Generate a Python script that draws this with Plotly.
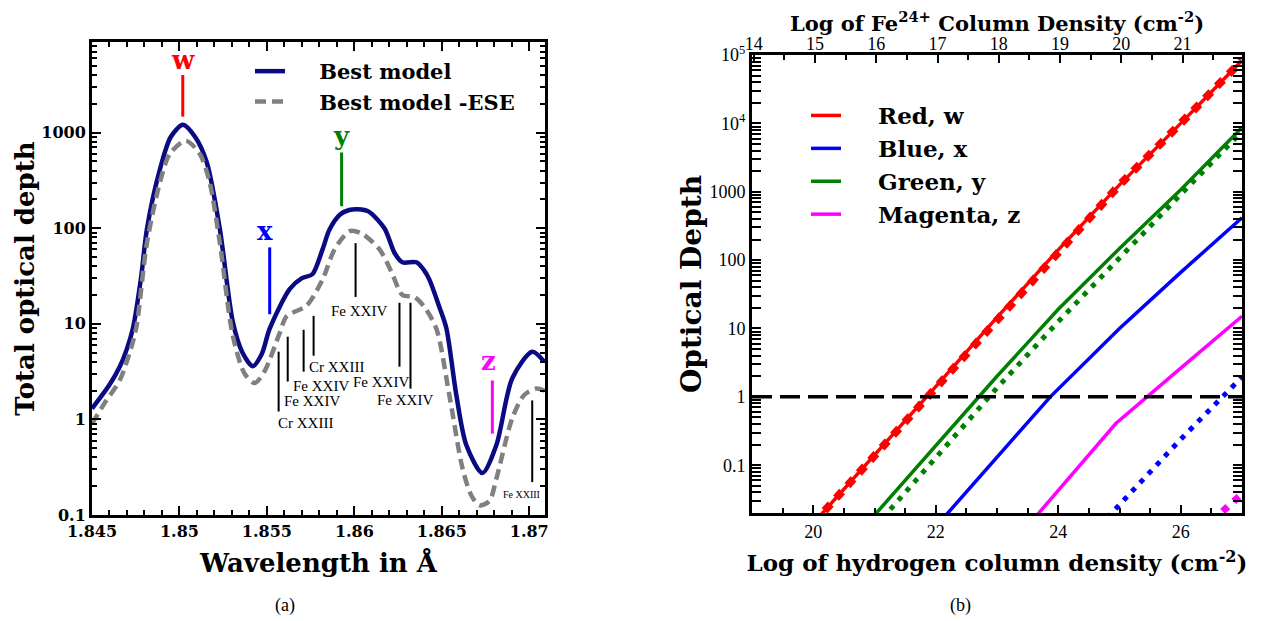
import math
import plotly.graph_objects as go

# page body has an 8px margin; lay out in reference pixel space, shifted by it
OFF = 8
W, H = 1264 - OFF, 621 - OFF

# ---------------- Panel (a): total optical depth vs wavelength ----------------
wl_best = [1.8450, 1.8460, 1.8466, 1.8470, 1.84734, 1.8478, 1.84814, 1.84888, 1.8495,
           1.8502, 1.8509, 1.85156, 1.85231, 1.85305, 1.8536, 1.85419, 1.8547, 1.85516,
           1.8563, 1.8570, 1.8576, 1.85818, 1.85858, 1.8592, 1.8597, 1.8602, 1.8608,
           1.86172, 1.8623, 1.86275, 1.86355, 1.8640, 1.86429, 1.86486, 1.86526, 1.86583,
           1.8664, 1.86732, 1.86812, 1.86903, 1.87017, 1.87086]
tau_best = [1.3, 2.3, 3.6, 5.5, 9.0, 30, 98, 410, 900,
            1210, 900, 490, 98, 10.5, 5.0, 3.6, 4.8, 8.9,
            23, 30, 33, 60, 97, 140, 155, 158, 150,
            100, 55, 44, 44, 36, 29, 15, 9.0, 1.8,
            0.54, 0.275, 0.54, 2.7, 5.1, 4.0]

wl_ese = [1.8450, 1.84574, 1.8466, 1.84734, 1.84757, 1.84814, 1.84888, 1.84945, 1.85037,
          1.85116, 1.85173, 1.85231, 1.85305, 1.85373, 1.8543, 1.85487, 1.85573, 1.85613,
          1.85727, 1.85818, 1.85887, 1.85973, 1.86041, 1.86144, 1.86212, 1.86275, 1.86344,
          1.8640, 1.86469, 1.86543, 1.86618, 1.86669, 1.86715, 1.86772, 1.86812, 1.86903,
          1.86971, 1.8704, 1.87086]
tau_ese = [0.9, 1.5, 2.6, 6.5, 10, 70, 300, 600, 820,
           600, 300, 70, 7.5, 3.0, 2.4, 3.2, 8.0, 12,
           15.5, 29, 60, 93, 88, 60, 35, 20, 19,
           15, 8.9, 1.8, 0.31, 0.16, 0.126, 0.14, 0.24, 1.03,
           1.8, 2.1, 2.0]

# line identifications (w, x, y, z)
line_ids = ["w", "x", "y", "z"]
line_wl = [1.85019, 1.85516, 1.85927, 1.86789]
line_lo = [1470, 12.6, 170, 0.71]
line_hi = [4000, 63, 620, 2.55]
line_label_wl = [1.85019, 1.85487, 1.85927, 1.86766]
line_label_tau = [5750, 93, 930, 4.1]
line_colors = ["#ff0000", "#0000ff", "#008000", "#ff00ff"]

# satellite / blended ion lines
ion_names = ["Cr XXIII", "Fe XXIV", "Fe XXIV", "Cr XXIII", "Fe XXIV", "Fe XXIV", "Fe XXIV", "Fe XXIII"]
ion_wl = [1.85567, 1.85619, 1.8571, 1.85767, 1.86007, 1.86258, 1.86321, 1.87017]
ion_lo = [1.21, 2.49, 3.16, 4.64, 19.1, 3.56, 2.10, 0.221]
ion_hi = [5.11, 7.33, 8.66, 12.1, 69.8, 16.6, 16.6, 1.58]
ion_label_wl = [1.85722, 1.85756, 1.85807, 1.85898, 1.86024, 1.86155, 1.86287, 1.86954]
ion_label_tau = [0.908, 1.54, 2.26, 3.56, 13.6, 2.49, 1.58, 0.162]
ion_label_size = [15, 15, 15, 15, 15, 15, 15, 10]

# ---------------- Panel (b): optical depth vs hydrogen column ----------------
nh_red = [20, 21, 22, 23, 24, 25, 26, 27]
tau_red = [0.0141, 0.138, 1.41, 14.5, 141, 1260, 10000, 83200]
tau_red_ese = [0.0141, 0.138, 1.41, 14.5, 141, 1260, 10000, 83200]

nh_green = [21.0, 22, 22.71, 23, 24, 25, 26, 27]
tau_green = [0.0186, 0.19, 1.0, 2.0, 19.1, 148, 1070, 8710]
nh_green_ese = [21, 22, 23, 24, 25, 26, 27]
tau_green_ese = [0.0123, 0.129, 1.35, 12.6, 110, 912, 7590]

nh_blue = [22, 23, 23.87, 25, 26, 27]
tau_blue = [0.0126, 0.132, 1.0, 10.0, 66.1, 417]
nh_blue_ese = [24.8, 25, 26, 27]
tau_blue_ese = [0.017, 0.0263, 0.24, 1.95]

nh_mag = [23.5, 24, 24.94, 26, 27]
tau_mag = [0.0129, 0.0427, 0.407, 2.63, 15.1]
nh_mag_ese = [26.5, 27]
tau_mag_ese = [0.0151, 0.038]

nh_unity = [19, 27]
tau_unity = [1, 1]

left_xticks = [1.845, 1.85, 1.855, 1.86, 1.865, 1.87]
left_xtext = ["1.845", "1.85", "1.855", "1.86", "1.865", "1.87"]
left_yticks = [0.1, 1, 10, 100, 1000]
left_ytext = ["0.1", "1", "10", "100", "1000"]
right_yticks = [0.1, 1, 10, 100, 1000, 1e4, 1e5]
right_ytext = ["0.1", "1", "10", "100", "1000", "10<sup>4</sup>", "10<sup>5</sup>"]
right_xticks = [20, 22, 24, 26]
fe_ticks = [14, 15, 16, 17, 18, 19, 20, 21]


def px(x):
    return (x - OFF) / W


def py(y):
    return 1 - (y - OFF) / H


SERIF_B = "DejaVu Serif"
TIMES = "Liberation Serif"
PAD = "\u00a0\u00a0\u00a0\u00a0"

fig = go.Figure()

# ---- panel (a) traces
fig.add_trace(go.Scatter(x=wl_best, y=tau_best, mode="lines", name=PAD + "Best model",
                         line=dict(color="#0a0a82", width=4.5, shape="spline", smoothing=0.8),
                         xaxis="x", yaxis="y", legend="legend"))
fig.add_trace(go.Scatter(x=wl_ese, y=tau_ese, mode="lines", name=PAD + "Best model -ESE",
                         line=dict(color="#808080", width=4.5, dash="11px,6px", shape="spline", smoothing=0.8),
                         xaxis="x", yaxis="y", legend="legend"))
for i in range(len(line_ids)):
    fig.add_trace(go.Scatter(x=[line_wl[i], line_wl[i]], y=[line_lo[i], line_hi[i]], mode="lines",
                             line=dict(color=line_colors[i], width=3), showlegend=False,
                             hoverinfo="skip", xaxis="x", yaxis="y"))
    fig.add_annotation(x=line_label_wl[i], y=math.log10(line_label_tau[i]), xref="x", yref="y",
                       text="<b>%s</b>" % line_ids[i], showarrow=False,
                       font=dict(family=SERIF_B, size=26, color=line_colors[i]))
for i in range(len(ion_names)):
    fig.add_trace(go.Scatter(x=[ion_wl[i], ion_wl[i]], y=[ion_lo[i], ion_hi[i]], mode="lines",
                             line=dict(color="black", width=2), showlegend=False,
                             hoverinfo="skip", xaxis="x", yaxis="y"))
    fig.add_annotation(x=ion_label_wl[i], y=math.log10(ion_label_tau[i]), xref="x", yref="y",
                       text=ion_names[i], showarrow=False,
                       font=dict(family=TIMES, size=ion_label_size[i], color="black"))

# ---- panel (b) traces
fig.add_trace(go.Scatter(x=nh_red, y=tau_red, mode="lines", name=PAD + "Red, w",
                         line=dict(color="#ff0000", width=3.5), xaxis="x2", yaxis="y2", legend="legend2"))
fig.add_trace(go.Scatter(x=nh_red, y=tau_red_ese, mode="lines", showlegend=False,
                         line=dict(color="#ff0000", width=8, dash="9px,8px"), xaxis="x2", yaxis="y2"))
fig.add_trace(go.Scatter(x=nh_blue, y=tau_blue, mode="lines", name=PAD + "Blue, x",
                         line=dict(color="#0000ff", width=3.5), xaxis="x2", yaxis="y2", legend="legend2"))
fig.add_trace(go.Scatter(x=nh_blue_ese, y=tau_blue_ese, mode="lines", showlegend=False,
                         line=dict(color="#0000ff", width=5, dash="5px,7px"), xaxis="x2", yaxis="y2"))
fig.add_trace(go.Scatter(x=nh_green, y=tau_green, mode="lines", name=PAD + "Green, y",
                         line=dict(color="#008000", width=3.5), xaxis="x2", yaxis="y2", legend="legend2"))
fig.add_trace(go.Scatter(x=nh_green_ese, y=tau_green_ese, mode="lines", showlegend=False,
                         line=dict(color="#008000", width=5, dash="5px,7px"), xaxis="x2", yaxis="y2"))
fig.add_trace(go.Scatter(x=nh_mag, y=tau_mag, mode="lines", name=PAD + "Magenta, z",
                         line=dict(color="#ff00ff", width=3.5), xaxis="x2", yaxis="y2", legend="legend2"))
fig.add_trace(go.Scatter(x=nh_mag_ese, y=tau_mag_ese, mode="lines", showlegend=False,
                         line=dict(color="#ff00ff", width=7, dash="7px,8px"), xaxis="x2", yaxis="y2"))
fig.add_trace(go.Scatter(x=nh_unity, y=tau_unity, mode="lines", showlegend=False,
                         line=dict(color="black", width=3.5, dash="20px,8px"), xaxis="x2", yaxis="y2"))
fig.add_trace(go.Scatter(x=fe_ticks, y=[1] * len(fe_ticks), mode="markers", showlegend=False,
                         marker=dict(opacity=0), hoverinfo="skip", xaxis="x3", yaxis="y2"))

axis_common = dict(showline=True, linecolor="black", linewidth=3, showgrid=False, zeroline=False,
                   ticks="inside", tickcolor="black", tickwidth=2, automargin=False)

fig.update_layout(
    width=W, height=H, margin=dict(l=0, r=0, t=0, b=0, autoexpand=False),
    paper_bgcolor="white", plot_bgcolor="white", showlegend=True,
    xaxis=dict(**axis_common, domain=[px(92), px(545)], anchor="y", range=[1.845, 1.8709],
               mirror="allticks", ticklen=9, tickvals=left_xticks, ticktext=left_xtext,
               tickfont=dict(family=SERIF_B, size=16, color="black", weight="bold"),
               minor=dict(ticks="inside", ticklen=5, tickwidth=1.5, tickcolor="black", dtick=0.001),
               title=dict(text="<b>Wavelength in Å</b>", standoff=14,
                          font=dict(family=SERIF_B, size=26, color="black"))),
    yaxis=dict(**axis_common, domain=[py(515), py(42)], anchor="x", type="log",
               range=[-1, 3.948], mirror="allticks", ticklen=9, tickvals=left_yticks, ticktext=left_ytext,
               tickfont=dict(family=SERIF_B, size=16, color="black", weight="bold"),
               minor=dict(ticks="inside", ticklen=5, tickwidth=1.5, tickcolor="black", dtick="D1"),
               title=dict(text="<b>Total optical depth</b>", standoff=0,
                          font=dict(family=SERIF_B, size=26, color="black"))),
    xaxis2=dict(**axis_common, domain=[px(752), px(1242)], anchor="y2", range=[19, 27],
                mirror=True, ticklen=8, tickvals=right_xticks,
                tickfont=dict(family=TIMES, size=18, color="black"),
                minor=dict(ticks="inside", ticklen=5, tickwidth=1.5, tickcolor="black", dtick=0.5),
                title=dict(text="<b>Log of hydrogen column density (cm<sup>-2</sup>)</b>", standoff=15,
                           font=dict(family=SERIF_B, size=23, color="black"))),
    xaxis3=dict(showline=False, showgrid=False, zeroline=False, ticks="inside", tickcolor="black",
                tickwidth=2, ticklen=8, overlaying="x2", side="top", anchor="y2", automargin=False,
                range=[13.97, 21.97], tickvals=fe_ticks,
                tickfont=dict(family=TIMES, size=18, color="black"),
                minor=dict(ticks="inside", ticklen=5, tickwidth=1.5, tickcolor="black", dtick=0.5),
                title=dict(text="<b>Log of Fe<sup>24+</sup> Column Density (cm<sup>-2</sup>)</b>",
                           standoff=16, font=dict(family=SERIF_B, size=21, color="black"))),
    yaxis2=dict(**axis_common, domain=[py(513), py(55)], anchor="x2", type="log",
                range=[math.log10(0.02), 5], mirror="allticks", ticklen=9,
                tickvals=right_yticks, ticktext=right_ytext,
                tickfont=dict(family=TIMES, size=18, color="black"),
                minor=dict(ticks="inside", ticklen=5, tickwidth=1.5, tickcolor="black", dtick="D1"),
                title=dict(text="<b>Optical Depth</b>", standoff=0,
                           font=dict(family=SERIF_B, size=28, color="black"))),
    legend=dict(x=px(250), y=py(51), xanchor="left", yanchor="top", bgcolor="rgba(0,0,0,0)",
                font=dict(family=SERIF_B, size=21, color="black", weight="bold"),
                tracegroupgap=0, itemclick=False),
    legend2=dict(x=px(806), y=py(94), xanchor="left", yanchor="top", bgcolor="rgba(0,0,0,0)",
                 font=dict(family=SERIF_B, size=23, color="black", weight="bold"),
                 tracegroupgap=0, itemclick=False),
)

fig.add_annotation(x=px(285), y=py(605), xref="paper", yref="paper", text="(a)", showarrow=False,
                   xanchor="center", yanchor="middle", font=dict(family=TIMES, size=18, color="black"))
fig.add_annotation(x=px(960), y=py(605), xref="paper", yref="paper", text="(b)", showarrow=False,
                   xanchor="center", yanchor="middle", font=dict(family=TIMES, size=18, color="black"))

fig.write_html("out.html")
